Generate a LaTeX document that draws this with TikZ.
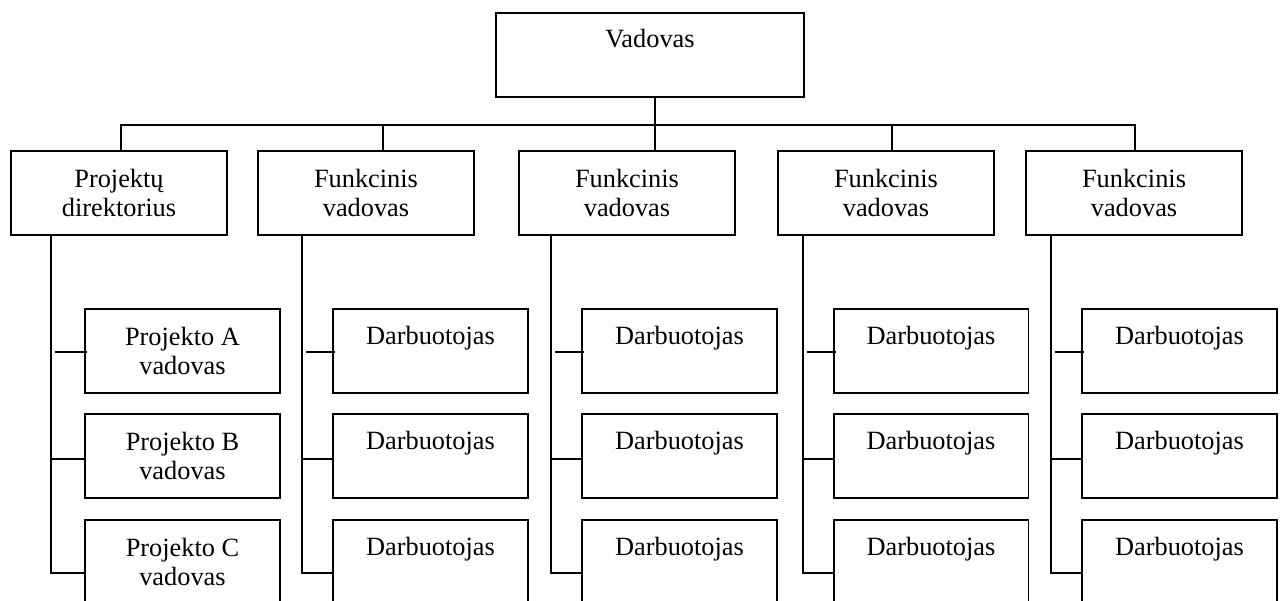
\documentclass[tikz,border=0pt]{standalone}
\usepackage{fontspec}
\setmainfont{Liberation Serif}
\begin{document}
\begin{tikzpicture}[x=0.02cm,y=-0.02cm,font=\fontsize{15}{17}\selectfont]
  \tikzset{
    box/.style={draw,line width=1.1pt,inner sep=0pt,align=center,minimum height=1.68cm},
    onebox/.style={box,text height=0.70cm,text depth=0.98cm},
    wire/.style={line width=1pt}
  }
  \useasboundingbox (0,0) rectangle (1280,601);
  \node[onebox,minimum width=6.16cm] (top) at (650,55) {Vadovas};
  \node[box,minimum width=4.32cm] (f1) at (119,193) {Projektų\\direktorius};
  \foreach \i/\x in {2/366,3/627,4/886,5/1134}
    \node[box,minimum width=4.32cm] (f\i) at (\x,193) {Funkcinis\\vadovas};
  \foreach \r/\y/\lab in {1/351/A,2/456/B,3/562/C}
    \node[box,minimum width=3.9cm] (b1-\r) at (182.5,\y) {Projekto \lab\\vadovas};
  \foreach \i/\x in {2/430.5,3/679.5,4/931,5/1179.5}
    \foreach \r/\y in {1/351,2/456,3/562}
      \node[onebox,minimum width=3.9cm] (b\i-\r) at (\x,\y) {Darbuotojas};
  \foreach \i/\x in {1/121,2/383,3/655,4/892,5/1135}
    \coordinate (d\i) at (\x,125);
  \foreach \i/\x in {1/51,2/302,3/551,4/803,5/1051}{
    \coordinate (s\i-1) at (\x,352);
    \coordinate (s\i-2) at (\x,459);
    \coordinate (s\i-3) at (\x,573);
  }
  \draw[wire] (d1 |- f1.north) -- (d1) -- (d5) -- (d5 |- f5.north);
  \foreach \i in {2,4}
    \draw[wire] (d\i) -- (d\i |- f\i.north);
  \draw[wire] (d3 |- top.south) -- (d3 |- f3.north);
  \foreach \i in {1,...,5}{
    \coordinate (e\i) at (s\i-1 -| b\i-1.west);
    \draw[wire] (s\i-1 |- f\i.south) -- (s\i-3) -- (s\i-3 -| b\i-3.west);
    \draw[wire] ([xshift=0.08cm]s\i-1) -- ([xshift=0.06cm]e\i);
    \draw[wire] (s\i-2) -- (s\i-2 -| b\i-2.west);
  }
\end{tikzpicture}
\end{document}
